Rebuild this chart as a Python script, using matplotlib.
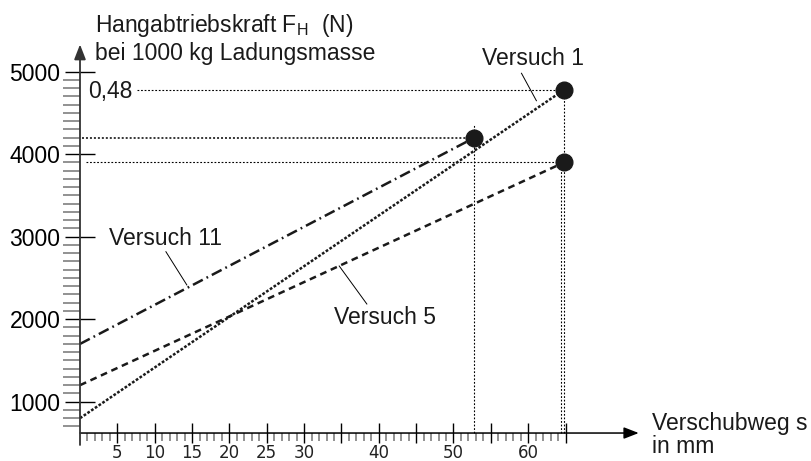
import matplotlib
matplotlib.use("Agg")
import matplotlib.pyplot as plt
from matplotlib.ticker import FixedLocator, FixedFormatter

plt.rcParams['font.family'] = ['Liberation Sans', 'DejaVu Sans']

# ---- data ----
v1_s = [0, 64.8]
v1_F = [800, 4780]
v5_s = [0, 64.8]
v5_F = [1200, 3900]
v11_s = [0, 52.8]
v11_F = [1700, 4200]

x_major = [5, 10, 15, 20, 25, 30, 35, 40, 45, 50, 55, 60, 65]
x_major_labels = ['5', '10', '15', '20', '25', '30', '', '40', '', '50', '', '60', '']
x_minor = list(range(1, 65))
y_major = [1000, 2000, 3000, 4000, 5000]
y_major_labels = ['1000', '2000', '3000', '4000', '5000']
y_minor = list(range(700, 5000, 100))

fig = plt.figure(figsize=(8.11, 4.61), dpi=100)
ax = fig.add_axes([0, 0, 1, 1])
ax.set_xlim(-10.71, 97.86)
ax.set_ylim(281, 5869)
for sp in ax.spines.values():
    sp.set_visible(False)
ax.spines['left'].set_position(('data', 0))
ax.spines['bottom'].set_position(('data', 620))
ax.patch.set_visible(False)

# axes with arrows
ax.annotate('', xy=(74.8, 620), xytext=(0, 620),
            arrowprops=dict(arrowstyle='-|>,head_length=0.9,head_width=0.35',
                            color='black', lw=1.1, shrinkA=0, shrinkB=0))
ax.annotate('', xy=(0, 5330), xytext=(0, 475),
            arrowprops=dict(arrowstyle='-|>,head_length=0.9,head_width=0.35',
                            color='#333333', lw=1.3, shrinkA=0, shrinkB=0))

# ticks
ax.xaxis.set_major_locator(FixedLocator(x_major))
ax.xaxis.set_major_formatter(FixedFormatter(x_major_labels))
ax.xaxis.set_minor_locator(FixedLocator(x_minor))
ax.yaxis.set_major_locator(FixedLocator(y_major))
ax.yaxis.set_major_formatter(FixedFormatter(y_major_labels))
ax.yaxis.set_minor_locator(FixedLocator(y_minor))
ax.tick_params(axis='x', which='major', direction='inout', length=15, width=1.0,
               color='black', pad=0.5, labelsize=12)
ax.tick_params(axis='x', which='minor', direction='out', length=6, width=1.2,
               color='#7f7f7f')
ax.tick_params(axis='y', which='major', direction='inout', length=22, width=1.0,
               color='black', pad=3, labelsize=16.5)
ax.tick_params(axis='y', which='minor', direction='out', length=12, width=1.2,
               color='#7f7f7f')
for lab in ax.get_xticklabels():
    lab.set_family(['Liberation Sans Narrow', 'DejaVu Sans'])
    lab.set_color('#222222')

# reference (construction) lines
ref = dict(color='black', lw=0.8, ls=(0, (1.6, 1.6)))
ax.plot([7.6, v1_s[-1]], [v1_F[-1], v1_F[-1]], **ref)
ax.plot([0.3, v11_s[-1]], [v11_F[-1], v11_F[-1]], color='black', lw=1.1, ls=(0, (1.3, 1.3)))
ax.plot([0.8, v5_s[-1]], [v5_F[-1], v5_F[-1]], **ref)
ax.plot([v11_s[-1], v11_s[-1]], [620, 4350], **ref)
ax.plot([v1_s[-1], v1_s[-1]], [620, v1_F[-1]], **ref)
ax.plot([v5_s[-1] - 0.4, v5_s[-1] - 0.4], [620, v5_F[-1]], **ref)

# series lines
lw = 1.8
ax.plot(v1_s, v1_F, color='#1a1a1a', lw=lw, ls=(0, (1.1, 0.7)))
ax.plot(v5_s, v5_F, color='#1a1a1a', lw=lw, ls=(0, (2.7, 1.9)))
ax.plot(v11_s, v11_F, color='#1a1a1a', lw=lw, ls=(0, (4.4, 1.7, 0.7, 1.7)))

# end points
ax.plot([v1_s[-1], v11_s[-1], v5_s[-1]], [v1_F[-1], v11_F[-1], v5_F[-1]],
        'o', color='#1a1a1a', ms=12, zorder=5)

# annotations
fs = 16.5
ax.text(60.6, 5154, 'Versuch 1', ha='center', va='center', fontsize=fs, color='#1a1a1a')
ax.plot([59.1, 61.1], [4981, 4648], color='black', lw=0.7)
ax.text(11.5, 2984, 'Versuch 11', ha='center', va='center', fontsize=fs, color='#1a1a1a')
ax.plot([11.5, 14.3], [2818, 2415], color='black', lw=0.7)
ax.text(40.8, 2015, 'Versuch 5', ha='center', va='center', fontsize=fs, color='#1a1a1a')
ax.plot([38.4, 34.7], [2184, 2645], color='black', lw=0.7)
ax.text(4.0, 4760, '0,48', ha='center', va='center', fontsize=fs, color='#1a1a1a')

# axis titles
ax.text(2.0, 5485, r'Hangabtriebskraft F$_\mathregular{H}$  (N)', ha='left', va='baseline',
        fontsize=fs, color='#1a1a1a')
ax.text(2.0, 5142, 'bei 1000 kg Ladungsmasse', ha='left', va='baseline',
        fontsize=fs, color='#1a1a1a')
ax.text(76.6, 657, 'Verschubweg s', ha='left', va='baseline', fontsize=fs, color='#1a1a1a')
ax.text(76.6, 378, 'in mm', ha='left', va='baseline', fontsize=fs, color='#1a1a1a')

fig.savefig('out.png', dpi=100)
